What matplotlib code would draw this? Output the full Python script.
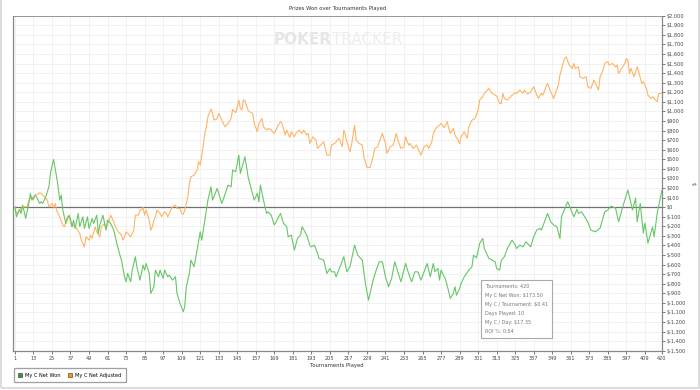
import matplotlib
matplotlib.use("Agg")
import matplotlib.pyplot as plt
from matplotlib.patches import Patch, Rectangle
from matplotlib.ticker import FuncFormatter

# tournaments played vs cumulative winnings
won_t = [1, 2, 4, 5, 6, 8, 10, 11, 12, 14, 15, 17, 18, 19, 21, 23, 24, 26, 28, 29,
         30, 31, 32, 34, 36, 37, 38, 39, 40, 42, 43, 45, 46, 48, 49, 51, 52, 54, 55, 56,
         57, 58, 60, 61, 63, 65, 67, 69, 70, 72, 73, 74, 76, 77, 79, 80, 82, 84, 85, 86,
         88, 89, 91, 92, 94, 95, 97, 98, 100, 101, 103, 105, 106, 108, 110, 111, 112, 114, 115, 117,
         119, 121, 122, 124, 126, 128, 129, 132, 135, 138, 139, 141, 142, 144, 146, 147, 150, 152, 154, 156,
         158, 159, 160, 162, 164, 165, 167, 169, 173, 175, 177, 178, 180, 182, 184, 186, 187, 190, 192, 193,
         195, 197, 198, 201, 203, 205, 206, 208, 209, 212, 214, 216, 218, 221, 223, 226, 228, 230, 233, 235,
         237, 239, 241, 243, 245, 247, 249, 251, 254, 256, 258, 260, 262, 264, 268, 270, 272, 273, 275, 276,
         277, 280, 282, 283, 285, 286, 287, 289, 290, 292, 295, 297, 298, 300, 302, 304, 305, 308, 310, 312,
         313, 315, 316, 318, 320, 323, 325, 326, 328, 330, 332, 335, 337, 339, 341, 342, 344, 346, 348, 350,
         352, 354, 355, 359, 363, 365, 366, 368, 370, 372, 374, 377, 380, 383, 385, 387, 390, 392, 395, 398,
         401, 403, 404, 406, 408, 409, 411, 414, 415, 417, 420]
won_v = [0, -101, -24, -66, 21, -118, 38, 143, 73, 125, 108, 38, 56, 38, 108, 212, 352, 498, 317, 212,
         73, 125, -31, -171, -84, -119, -205, -136, -223, -66, -205, -101, -223, -101, -223, -119, -171, -84, -275, -188,
         -136, -84, -240, -136, -171, -240, -380, -502, -554, -728, -780, -693, -780, -658, -519, -624, -763, -606, -658, -589,
         -693, -902, -832, -658, -728, -658, -745, -658, -728, -711, -763, -728, -902, -1007, -1094, -1041, -832, -693, -554, -624,
         -449, -258, -345, -136, 73, 212, 73, 195, 38, 178, 230, 212, 387, 369, 543, 352, 526, 317, 195, 73,
         143, 56, 230, 73, -66, -49, -84, -188, -66, -171, -205, -310, -293, -449, -327, -293, -205, -293, -397, -415,
         -397, -484, -536, -554, -693, -641, -676, -676, -728, -606, -519, -676, -624, -397, -502, -554, -798, -972, -763, -658,
         -571, -571, -728, -833, -745, -571, -676, -780, -589, -693, -780, -676, -676, -763, -589, -728, -589, -676, -641, -763,
         -658, -760, -885, -954, -902, -832, -920, -850, -798, -728, -658, -624, -502, -530, -380, -327, -432, -536, -554, -571,
         -641, -658, -554, -519, -432, -345, -397, -432, -397, -415, -362, -415, -310, -240, -223, -240, -153, -66, -153, -188,
         -205, -327, -101, 56, -101, -24, -66, -49, -101, -153, -240, -258, -220, -49, -31, 10, -10, -153, 21, 178,
         -31, 94, -153, 38, -272, -167, -376, -206, -310, -63, 173.5]

adj_t = [1, 2, 4, 5, 7, 9, 10, 12, 13, 14, 16, 17, 18, 20, 21, 22, 23, 25, 26, 27,
         28, 30, 32, 33, 35, 36, 38, 39, 41, 43, 44, 46, 47, 49, 50, 51, 53, 54, 56, 57,
         59, 60, 62, 63, 65, 66, 68, 70, 71, 72, 73, 74, 76, 78, 79, 81, 82, 83, 84, 85,
         86, 88, 89, 90, 91, 92, 93, 95, 96, 98, 99, 100, 102, 103, 105, 106, 108, 109, 110, 111,
         113, 114, 115, 117, 119, 120, 121, 123, 124, 125, 126, 128, 129, 130, 132, 133, 134, 136, 137, 139,
         141, 142, 144, 145, 146, 147, 148, 149, 150, 152, 153, 155, 156, 158, 159, 161, 162, 164, 165, 167,
         169, 171, 173, 174, 176, 177, 179, 180, 182, 183, 185, 187, 188, 190, 191, 192, 194, 196, 197, 199,
         201, 203, 205, 206, 208, 209, 211, 213, 214, 215, 216, 218, 219, 221, 222, 224, 226, 227, 229, 231,
         233, 234, 236, 237, 239, 241, 242, 244, 246, 248, 249, 251, 253, 254, 256, 257, 259, 261, 262, 264,
         266, 268, 269, 271, 272, 274, 276, 277, 279, 281, 282, 283, 285, 286, 288, 289, 290, 292, 294, 295,
         297, 299, 301, 302, 304, 305, 307, 308, 310, 311, 313, 315, 316, 317, 318, 320, 322, 323, 325, 326,
         328, 330, 331, 333, 335, 337, 339, 340, 342, 343, 345, 346, 348, 350, 351, 353, 354, 356, 357, 358,
         360, 362, 363, 364, 366, 367, 369, 371, 372, 374, 376, 377, 379, 380, 382, 383, 385, 386, 388, 390,
         391, 392, 394, 396, 397, 398, 399, 400, 402, 404, 405, 407, 408, 410, 411, 413, 414, 416, 417, 418,
         420]
adj_v = [0, -66, -31, -14, 3, 3, 73, 108, 73, 125, 136, 150, 143, 108, 91, 73, 3, 38, -3, 38,
         -31, -101, -188, -206, -101, -101, -206, -188, -223, -275, -345, -415, -310, -345, -293, -327, -206, -258, -310, -206,
         -171, -223, -136, -84, -153, -206, -258, -293, -345, -310, -258, -275, -310, -240, -84, -84, -31, -31, -3, -84,
         -31, -136, -240, -206, -136, -101, -31, -66, -101, -49, -66, -101, -31, 3, 21, -14, -14, -66, -77, -31,
         108, 247, 317, 334, 387, 474, 439, 650, 770, 839, 944, 1025, 979, 909, 926, 979, 944, 874, 839, 874,
         926, 1020, 986, 1048, 1118, 1031, 1014, 1118, 1111, 1014, 996, 979, 874, 787, 874, 926, 839, 805, 822, 805,
         770, 839, 892, 874, 752, 805, 728, 787, 735, 770, 805, 770, 805, 752, 770, 665, 735, 700, 613, 648,
         683, 543, 543, 648, 665, 683, 718, 630, 805, 752, 683, 578, 648, 857, 700, 665, 648, 526, 414, 414,
         526, 613, 630, 683, 770, 665, 561, 630, 648, 770, 700, 613, 630, 735, 648, 665, 613, 648, 613, 543,
         630, 648, 613, 683, 770, 832, 857, 874, 832, 892, 822, 770, 822, 752, 700, 665, 735, 787, 718, 839,
         909, 926, 1014, 1118, 1153, 1188, 1223, 1240, 1188, 1181, 1160, 1083, 1083, 1188, 1135, 1118, 1153, 1170, 1195, 1188,
         1223, 1188, 1223, 1181, 1205, 1257, 1170, 1135, 1188, 1170, 1257, 1292, 1205, 1135, 1188, 1275, 1379, 1501, 1553, 1571,
         1484, 1449, 1501, 1449, 1466, 1362, 1344, 1362, 1257, 1240, 1327, 1292, 1223, 1362, 1432, 1501, 1519, 1484, 1501, 1466,
         1484, 1397, 1449, 1501, 1553, 1536, 1397, 1449, 1362, 1466, 1414, 1292, 1310, 1240, 1170, 1135, 1153, 1118, 1101, 1188,
         1188]

x_ticks = list(range(1, 410, 12)) + [420]
y_ticks = list(range(-1500, 2001, 100))

info_lines = ["Tournaments: 420", "My C Net Won: $173.50", "My C / Tournament: $0.41",
              "Days Played: 10", "My C / Day: $17.35", "ROI %: 0.54"]

green = "#66c666"
orange = "#ffb366"

fig = plt.figure(figsize=(7, 3.9), dpi=100)
ax = fig.add_axes([0.018, 0.1008, 0.9275, 0.859])

ax.plot(adj_t, adj_v, color=orange, lw=0.8, zorder=3)
ax.plot(won_t, won_v, color=green, lw=0.8, zorder=4)
ax.axhline(0, color="#707070", lw=0.9, zorder=2)

ax.set_xlim(-0.5, 420)
ax.set_ylim(-1500, 2000)
ax.set_xticks(x_ticks)
ax.set_yticks(y_ticks)
ax.yaxis.tick_right()
ax.yaxis.set_label_position("right")
ax.yaxis.set_major_formatter(FuncFormatter(lambda v, p: "$" + format(int(v), ",")))
ax.tick_params(axis="both", labelsize=3.6, colors="#444444", length=2, width=0.5, pad=1.5)
ax.tick_params(axis="y", labelleft=False, left=False)
ax.grid(True, color="#efefef", lw=0.6, zorder=0)
ax.set_axisbelow(True)
for side in ["left", "bottom", "right", "top"]:
    ax.spines[side].set_color("#888888")
    ax.spines[side].set_linewidth(0.9)
ax.spines["top"].set_linewidth(0.6)

ax.set_title("Prizes Won over Tournaments Played", fontsize=3.8, color="#333333", pad=4)
ax.set_xlabel("Tournaments Played", fontsize=3.8, color="#333333", labelpad=1.5)
ax.set_ylabel("$", fontsize=3.5, color="#444444", rotation=90, labelpad=5)

# watermark
ax.text(0.492, 0.93, "POKER", transform=ax.transAxes, fontsize=11, fontweight="bold",
        color="#e6e6e6", ha="right", va="center", zorder=1)
ax.text(0.492, 0.93, "TRACKER", transform=ax.transAxes, fontsize=11,
        color="#eeeeee", ha="left", va="center", zorder=1)

# summary box
ax.text(0.727, 0.200, "\n".join(info_lines), transform=ax.transAxes, fontsize=3.5,
        color="#777777", ha="left", va="top", linespacing=2.0, zorder=6,
        bbox=dict(boxstyle="square,pad=0.8", fc="white", ec="#aaaaaa", lw=0.8))

handles = [Patch(facecolor="#2f9a2f", edgecolor="#333333", lw=0.4, label="My C Net Won"),
           Patch(facecolor="#ff9900", edgecolor="#333333", lw=0.4, label="My C Net Adjusted")]
leg = fig.legend(handles=handles, loc="lower left", bbox_to_anchor=(0.016, 0.013), ncol=2,
                 fontsize=3.6, frameon=True, fancybox=False, handlelength=0.8, handleheight=0.8,
                 columnspacing=1.5, borderpad=0.9, handletextpad=0.6)
leg.get_frame().set_edgecolor("#888888")
leg.get_frame().set_linewidth(0.9)

fig.patches.append(Rectangle((0.002, 0.004), 0.996, 1.2, transform=fig.transFigure,
                             fill=False, ec="#dddddd", lw=1.5))

fig.savefig("out.png", dpi=100)
